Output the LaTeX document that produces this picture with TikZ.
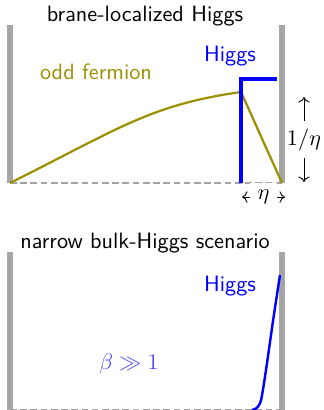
\documentclass[tikz,border=0pt]{standalone}
\usetikzlibrary{arrows.meta}
\definecolor{fermcol}{HTML}{9A9000}
\definecolor{barcol}{HTML}{A6A6A6}
\definecolor{basecol}{HTML}{A3A3A3}

\begin{document}
\begin{tikzpicture}[
    x=0.45pt, y=-0.45pt,
    every node/.style={font=\sffamily},
    wall/.style={barcol, line width=3.1pt},
    base/.style={basecol, line width=0.5pt, dash pattern=on 3pt off 1.6pt},
    ferm/.style={fermcol, line width=1pt},
    higgs/.style={blue, line width=1.4pt},
    span/.style={<->, line width=0.4pt},
    gap/.style={fill=white},
]
\useasboundingbox (0,0) rectangle (323,410);

% walls and zero line of both panels
\foreach \t/\b in {25/183, 252/410}{
    \draw[wall] (10,\t) -- (10,\b);
    \draw[wall] (282,\t) -- (282,\b);
    \draw[base] (10,\b) -- (283,\b);
}

% top: brane-localized Higgs
\node (titA) at (145,16) {brane-localized Higgs};
\node[text=fermcol] (fermlab) at (96,72) {odd fermion};
\node[text=blue] (higgsA) at (230,56) {Higgs};
\draw[ferm] (10,183) .. controls (120,128) and (150,105) .. (241,92) -- (282,183);
\draw[higgs] (241,183) -- (241,79) -- (277,79);

\coordinate (htop) at (304,97);
\coordinate (hbot) at (304,182);
\draw[span] (htop) -- node[gap, inner xsep=0.5pt] (hlab) {$1/\eta$} (hbot);
\coordinate (wleft) at (242,197);
\coordinate (wright) at (285,197);
\draw[span] (wleft) -- node[gap] (wlab) {$\eta$} (wright);

% bottom: narrow bulk Higgs
\node (titB) at (145,243) {narrow bulk-Higgs scenario};
\node[text=blue] (higgsB) at (230,286) {Higgs};
\node[text=blue!70] (betalab) at (129,364) {$\beta \gg 1$};
\draw[higgs, line width=1.1pt] plot[smooth] coordinates
    {(252,410) (256,408.5) (259,405) (261.5,398) (266,370) (273,321) (280,275)};

\end{tikzpicture}
\end{document}
